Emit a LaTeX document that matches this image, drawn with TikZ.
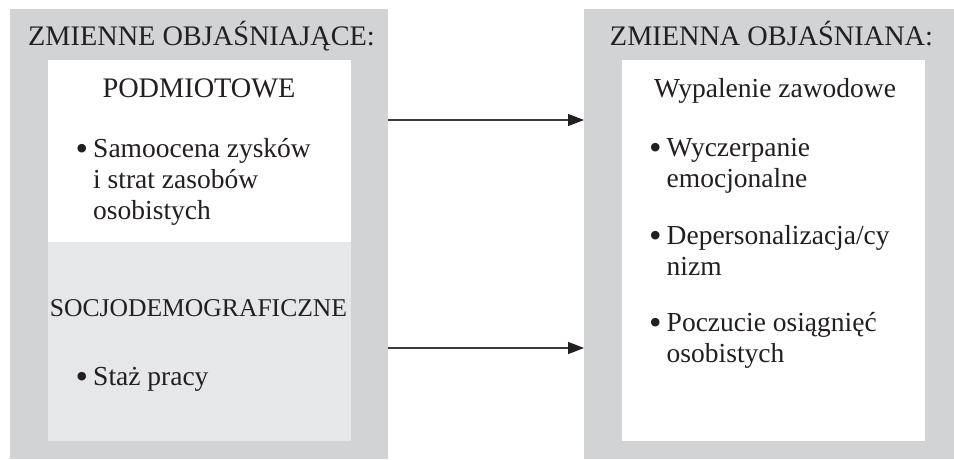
\documentclass[tikz,border=0pt]{standalone}
\usepackage{fontspec}
\usepackage{graphicx}
\setmainfont{Liberation Serif}
\usetikzlibrary{arrows.meta}
\definecolor{outergrey}{HTML}{D1D3D4}
\definecolor{lowergrey}{HTML}{E6E7E8}
\definecolor{ink}{HTML}{231F20}
\definecolor{linegrey}{HTML}{3C3A3B}
\newcommand{\bigbul}{\raisebox{-3.5pt}{\scalebox{1.3}{\textbullet}}}
\begin{document}
\begin{tikzpicture}[x=1pt,y=-1pt,
  panel/.style={draw=none, inner sep=0pt, outer sep=0pt, anchor=north west},
  heading/.style={anchor=base, inner sep=0pt, text=ink, font=\fontsize{28.3}{34}\selectfont},
  subhead/.style={anchor=base, inner sep=0pt, text=ink, font=\fontsize{27.5}{31}\selectfont},
  smallhead/.style={anchor=base, inner sep=0pt, text=ink, font=\fontsize{25.6}{31}\selectfont},
  item/.style={anchor=base west, inner sep=0pt, text=ink, font=\fontsize{27.5}{31}\selectfont},
  arrowline/.style={draw=linegrey, line width=1.3pt, -{Triangle[length=16pt,width=12pt,fill=ink,color=ink]}}]
\useasboundingbox (0,0) rectangle (954,459);
% panels
\node[panel, fill=outergrey, minimum width=378pt, minimum height=450pt] (outerL) at (10,9) {};
\node[panel, fill=outergrey, minimum width=370pt, minimum height=450pt] (outerR) at (584,9) {};
\node[panel, fill=white, minimum width=303pt, minimum height=182pt] (podm) at (48,60) {};
\node[panel, fill=lowergrey, minimum width=303pt, minimum height=199pt] (socjo) at (48,242) {};
\node[panel, fill=white, minimum width=303pt, minimum height=381pt] (wyp) at (622,60) {};
% headings
\node[heading] (tL) at (201.5,45) {ZMIENNE OBJAŚNIAJĄCE:};
\node[heading] (tR) at (771.5,45) {ZMIENNA OBJAŚNIANA:};
\node[heading] (hPodm) at (199,97) {PODMIOTOWE};
\node[subhead] (hWyp) at (775,97) {Wypalenie zawodowe};
\node[smallhead] (hSocjo) at (198.5,316) {SOCJODEMOGRAFICZNE};
% items
\node[item] (iSamo) at (75.5,157) {\begin{tabular}[t]{@{}l@{\hspace{5pt}}l@{}}\bigbul & Samoocena zysków\\ & i strat zasobów\\ & osobistych\end{tabular}};
\node[item] (iStaz) at (75.5,385) {\begin{tabular}[t]{@{}l@{\hspace{5pt}}l@{}}\bigbul & Staż pracy\end{tabular}};
\node[item] (iWycz) at (649,156) {\begin{tabular}[t]{@{}l@{\hspace{5pt}}l@{}}\bigbul & Wyczerpanie\\ & emocjonalne\end{tabular}};
\node[item] (iDep) at (649,244) {\begin{tabular}[t]{@{}l@{\hspace{5pt}}l@{}}\bigbul & Depersonalizacja/cy\\ & nizm\end{tabular}};
\node[item] (iPocz) at (649,331) {\begin{tabular}[t]{@{}l@{\hspace{5pt}}l@{}}\bigbul & Poczucie osiągnięć\\ & osobistych\end{tabular}};
% arrows
\coordinate (row1) at (0,120);
\coordinate (row2) at (0,348);
\draw[arrowline] (outerL.east |- row1) -- (outerR.west |- row1);
\draw[arrowline] (outerL.east |- row2) -- (outerR.west |- row2);
\end{tikzpicture}
\end{document}
